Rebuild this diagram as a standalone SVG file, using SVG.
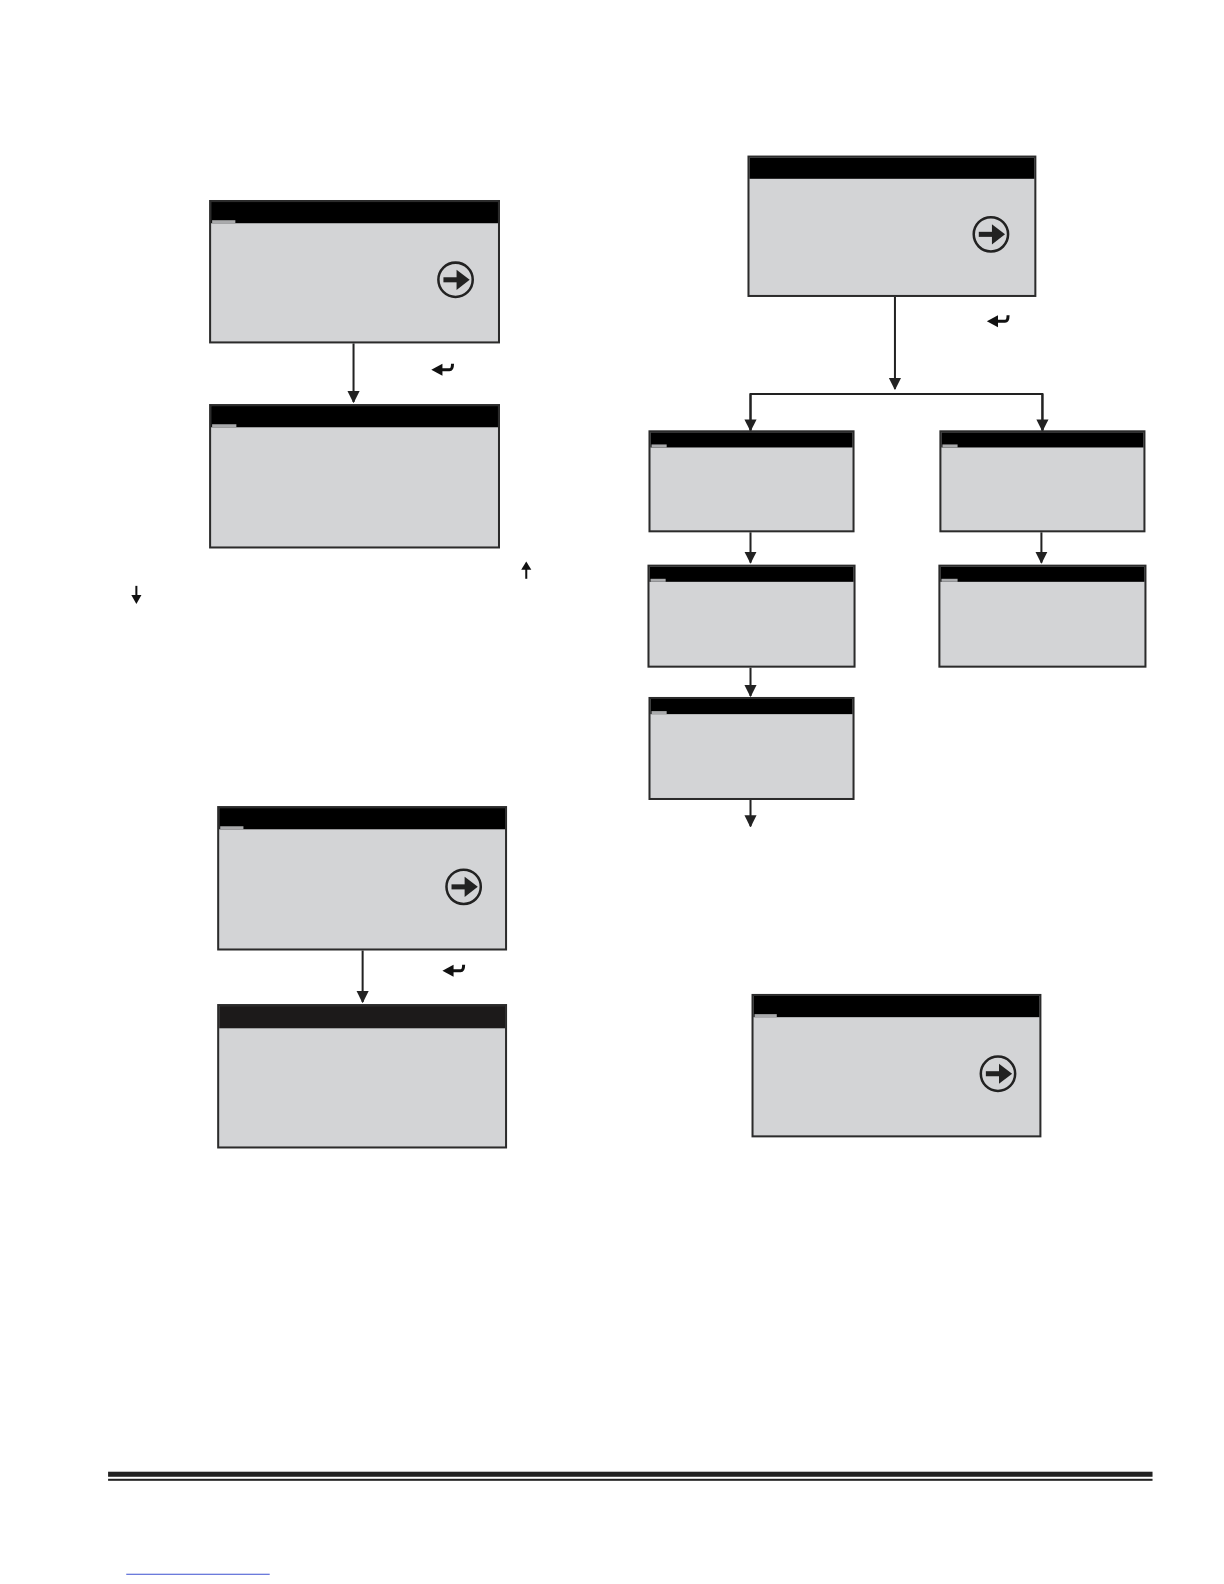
<svg xmlns="http://www.w3.org/2000/svg" width="1224" height="1584" viewBox="0 0 1224 1584">
<defs>
<style>
.box{fill:#d3d4d6;stroke:#2b2b2b;stroke-width:2}
.bar{fill:#000}
.tab{fill:#a9aaac}
.ln{stroke:#222;stroke-width:2;fill:none}
.circ{fill:none;stroke:#222;stroke-width:2.5}
</style>
<marker id="arrL" viewBox="0 0 10 10" refX="9" refY="5" markerWidth="12" markerHeight="14" markerUnits="userSpaceOnUse" orient="auto">
<path d="M0,0 L10,5 L0,10 z" fill="#222"/>
</marker>
<g id="go">
<circle cx="0" cy="0" r="17" class="circ"/>
<rect x="-12" y="-2.5" width="14" height="5" fill="#222"/>
<path d="M1,-10 L14,0 L1,10 z" fill="#222"/>
</g>
<g id="ret">
<path d="M-11,0 L0,-6 L0,6 z" fill="#111"/>
<path d="M-1,0 L7,0 Q10,0 10,-6" fill="none" stroke="#111" stroke-width="3"/>
</g>
</defs>
<rect width="1224" height="1584" fill="#fff"/>
<g transform="scale(1.0101)">
<g id="connectors">
<line class="ln" x1="350" y1="340" x2="350" y2="398" marker-end="url(#arrL)"/>
<line class="ln" x1="886" y1="294" x2="886" y2="385" marker-end="url(#arrL)"/>
<polyline class="ln" points="743,427 743,390 1032,390 1032,427"/>
<line class="ln" x1="743" y1="390" x2="743" y2="426" marker-end="url(#arrL)"/>
<line class="ln" x1="1032" y1="390" x2="1032" y2="426" marker-end="url(#arrL)"/>
<line class="ln" x1="743" y1="527" x2="743" y2="557" marker-end="url(#arrL)"/>
<line class="ln" x1="1031" y1="527" x2="1031" y2="557" marker-end="url(#arrL)"/>
<line class="ln" x1="743" y1="661" x2="743" y2="689" marker-end="url(#arrL)"/>
<line class="ln" x1="743" y1="792" x2="743" y2="818" marker-end="url(#arrL)"/>
<line class="ln" x1="359" y1="941" x2="359" y2="992" marker-end="url(#arrL)"/>
</g>

<g id="nodeA">
<rect class="box" x="208" y="199" width="286" height="140"/>
<rect class="bar" x="209" y="200" width="284" height="21"/>
<rect class="tab" x="210" y="218" width="23" height="3"/>
<use href="#go" x="451" y="277"/>
</g>
<use href="#ret" x="438" y="366"/>

<g id="nodeB">
<rect class="box" x="208" y="401" width="286" height="141"/>
<rect class="bar" x="209" y="402" width="284" height="21"/>
<rect class="tab" x="210" y="420" width="24" height="3"/>
</g>

<g id="upArrow">
<line x1="521" y1="573" x2="521" y2="562" stroke="#111" stroke-width="2"/>
<path d="M516,564 L521,556 L526,564 z" fill="#111"/>
</g>
<g id="downArrow">
<line x1="135" y1="580" x2="135" y2="591" stroke="#111" stroke-width="2"/>
<path d="M130,589 L135,598 L140,589 z" fill="#111"/>
</g>

<g id="nodeC">
<rect class="box" x="741" y="155" width="284" height="138"/>
<rect class="bar" x="742" y="156" width="282" height="21"/>
<use href="#go" x="981" y="232"/>
</g>
<use href="#ret" x="988" y="318"/>

<g id="nodeD">
<rect class="box" x="643" y="427" width="202" height="99"/>
<rect class="bar" x="644" y="428" width="200" height="15"/>
<rect class="tab" x="645" y="440" width="15" height="3"/>
</g>
<g id="nodeE">
<rect class="box" x="642" y="560" width="204" height="100"/>
<rect class="bar" x="643" y="561" width="202" height="15"/>
<rect class="tab" x="644" y="573" width="15" height="3"/>
</g>
<g id="nodeF">
<rect class="box" x="643" y="691" width="202" height="100"/>
<rect class="bar" x="644" y="692" width="200" height="15"/>
<rect class="tab" x="645" y="704" width="15" height="3"/>
</g>
<g id="nodeG">
<rect class="box" x="931" y="427" width="202" height="99"/>
<rect class="bar" x="932" y="428" width="200" height="15"/>
<rect class="tab" x="933" y="440" width="15" height="3"/>
</g>
<g id="nodeH">
<rect class="box" x="930" y="560" width="204" height="100"/>
<rect class="bar" x="931" y="561" width="202" height="15"/>
<rect class="tab" x="932" y="573" width="16" height="3"/>
</g>

<g id="nodeI">
<rect class="box" x="216" y="799" width="285" height="141"/>
<rect class="bar" x="217" y="800" width="283" height="21"/>
<rect class="tab" x="218" y="818" width="23" height="3"/>
<use href="#go" x="459" y="878"/>
</g>
<use href="#ret" x="449" y="961"/>

<g id="nodeJ">
<rect class="box" x="216" y="995" width="285" height="141"/>
<rect x="217" y="996" width="283" height="22" fill="#1c1a1a"/>
</g>

<g id="nodeK">
<rect class="box" x="745" y="985" width="285" height="140"/>
<rect class="bar" x="746" y="986" width="283" height="21"/>
<rect class="tab" x="747" y="1004" width="22" height="3"/>
<use href="#go" x="988" y="1063"/>
</g>

<g id="footer">
<rect x="107" y="1457" width="1034" height="5" fill="#222"/>
<rect x="107" y="1464" width="1034" height="2" fill="#222"/>
<line x1="125" y1="1558.5" x2="267" y2="1558.5" stroke="#3b4fd0" stroke-width="1"/>
</g>
</g>
</svg>
